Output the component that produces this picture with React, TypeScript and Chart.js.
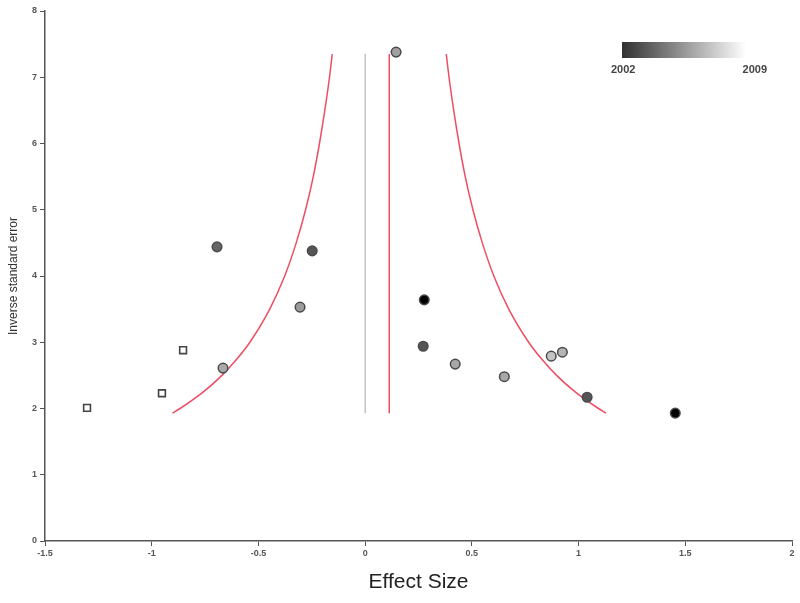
import React, { useEffect, useRef } from "react";
import { Chart, registerables } from "chart.js";
Chart.register(...registerables);

// Studies (effect size, inverse SE, fill shade by year)
const studyX = [-0.694, -0.248, -0.305, -0.666, 0.145, 0.277, 0.272, 0.422, 0.652, 0.872, 0.924, 1.04, 1.453];
const studyY = [4.44, 4.38, 3.53, 2.61, 7.38, 3.64, 2.94, 2.67, 2.48, 2.79, 2.85, 2.17, 1.93];
const studyFill = ["#666666", "#555555", "#9a9a9a", "#a8a8a8", "#a0a0a0", "#000000", "#555555", "#a8a8a8", "#a8a8a8", "#c4c4c4", "#b4b4b4", "#555555", "#000000"];

// Imputed studies (open squares)
const imputedX = [-1.303, -0.952, -0.853];
const imputedY = [2.01, 2.23, 2.88];

// Funnel boundaries
const funnelY = [1.93, 2.0, 2.25, 2.5, 2.75, 3.0, 3.5, 4.0, 4.5, 5.0, 5.5, 6.0, 6.5, 7.0, 7.35];
const funnelLeftX = [-0.903, -0.867, -0.758, -0.671, -0.6, -0.54, -0.447, -0.377, -0.323, -0.279, -0.243, -0.214, -0.189, -0.167, -0.154];
const funnelRightX = [1.129, 1.093, 0.984, 0.897, 0.826, 0.766, 0.673, 0.603, 0.549, 0.505, 0.469, 0.44, 0.415, 0.393, 0.38];

const pooledEffect = 0.113;
const lineYRange = [1.93, 7.35];

const yearStart = "2002";
const yearEnd = "2009";

const xTicks = [-1.5, -1, -0.5, 0, 0.5, 1, 1.5, 2];

const colorbarPlugin = {
  id: "colorbar",
  afterDraw(chart: any) {
    const ctx = chart.ctx;
    const x0 = 622, y0 = 42, w = 124, h = 16;
    ctx.save();
    const g = ctx.createLinearGradient(x0, 0, x0 + w, 0);
    g.addColorStop(0, "#303030");
    g.addColorStop(1, "#ffffff");
    ctx.fillStyle = g;
    ctx.fillRect(x0, y0, w, h);
    ctx.fillStyle = "#444";
    ctx.font = "bold 11px 'Liberation Sans', Arial, sans-serif";
    ctx.textBaseline = "middle";
    ctx.textAlign = "left";
    ctx.fillText(yearStart, 611, 70);
    ctx.textAlign = "right";
    ctx.fillText(yearEnd, 767, 70);
    ctx.restore();
  },
};

export default function App() {
  const ref = useRef<HTMLCanvasElement>(null);
  useEffect(() => {
    if (!ref.current) return;
    const chart = new Chart(ref.current, {
      type: "scatter",
      data: {
        datasets: [
          {
            data: studyX.map((x, i) => ({ x, y: studyY[i] })),
            pointStyle: "circle",
            pointRadius: 4.8,
            pointBackgroundColor: studyFill,
            pointBorderColor: "#4a4a4a",
            pointBorderWidth: 1.5,
          },
          {
            data: imputedX.map((x, i) => ({ x, y: imputedY[i] })),
            pointStyle: "rect",
            pointRadius: 4.8,
            pointBackgroundColor: "#ffffff",
            pointBorderColor: "#444444",
            pointBorderWidth: 1.6,
          },
          {
            data: funnelY.map((y, i) => ({ x: funnelLeftX[i], y })),
            showLine: true,
            borderColor: "#ee4d63",
            borderWidth: 1.5,
            pointRadius: 0,
            cubicInterpolationMode: "monotone",
          },
          {
            data: funnelY.map((y, i) => ({ x: funnelRightX[i], y })),
            showLine: true,
            borderColor: "#ee4d63",
            borderWidth: 1.5,
            pointRadius: 0,
            cubicInterpolationMode: "monotone",
          },
          {
            data: lineYRange.map((y) => ({ x: pooledEffect, y })),
            showLine: true,
            borderColor: "#ee4d63",
            borderWidth: 1.5,
            pointRadius: 0,
          },
          {
            data: lineYRange.map((y) => ({ x: 0, y })),
            showLine: true,
            borderColor: "#a8a8a8",
            borderWidth: 1,
            pointRadius: 0,
          },
        ] as any,
      },
      options: {
        animation: false,
        responsive: false,
        maintainAspectRatio: false,
        layout: { padding: { top: 11, right: 8, left: 0, bottom: 0 } },
        plugins: { legend: { display: false }, tooltip: { enabled: false } },
        scales: {
          x: {
            type: "linear",
            min: -1.5,
            max: 2,
            afterBuildTicks: (s: any) => {
              s.ticks = xTicks.map((v) => ({ value: v }));
            },
            afterFit: (s: any) => {
              s.height = 62;
            },
            grid: { display: true, drawOnChartArea: false, drawTicks: true, tickLength: 5, color: "#555" },
            border: { display: true, color: "#555", width: 1.5 },
            ticks: {
              color: "#555",
              padding: 2,
              font: { size: 9, family: "'Liberation Sans', Arial, sans-serif", weight: "bold" },
              callback: (v: any) => String(v),
            },
            title: {
              display: true,
              text: "Effect Size",
              color: "#222",
              font: { size: 21, family: "'Liberation Sans', Arial, sans-serif" },
              padding: { top: 8, bottom: 8 },
            },
          },
          y: {
            type: "linear",
            min: 0,
            max: 8,
            afterFit: (s: any) => {
              s.width = 45;
            },
            grid: { display: true, drawOnChartArea: false, drawTicks: true, tickLength: 5, color: "#555" },
            border: { display: true, color: "#555", width: 1.5 },
            ticks: {
              stepSize: 1,
              color: "#555",
              padding: 3,
              font: { size: 9, family: "'Liberation Sans', Arial, sans-serif", weight: "bold" },
            },
            title: {
              display: true,
              text: "Inverse standard error",
              color: "#333",
              font: { size: 12, family: "'Liberation Sans', Arial, sans-serif" },
              padding: { top: 6, bottom: 6 },
            },
          },
        },
      },
      plugins: [colorbarPlugin],
    });
    return () => chart.destroy();
  }, []);
  return (
    <div style={{ position: "fixed", left: 0, top: 0, width: 800, height: 603, background: "#fff" }}>
      <canvas ref={ref} width={800} height={603} style={{ width: 800, height: 603 }} />
    </div>
  );
}
